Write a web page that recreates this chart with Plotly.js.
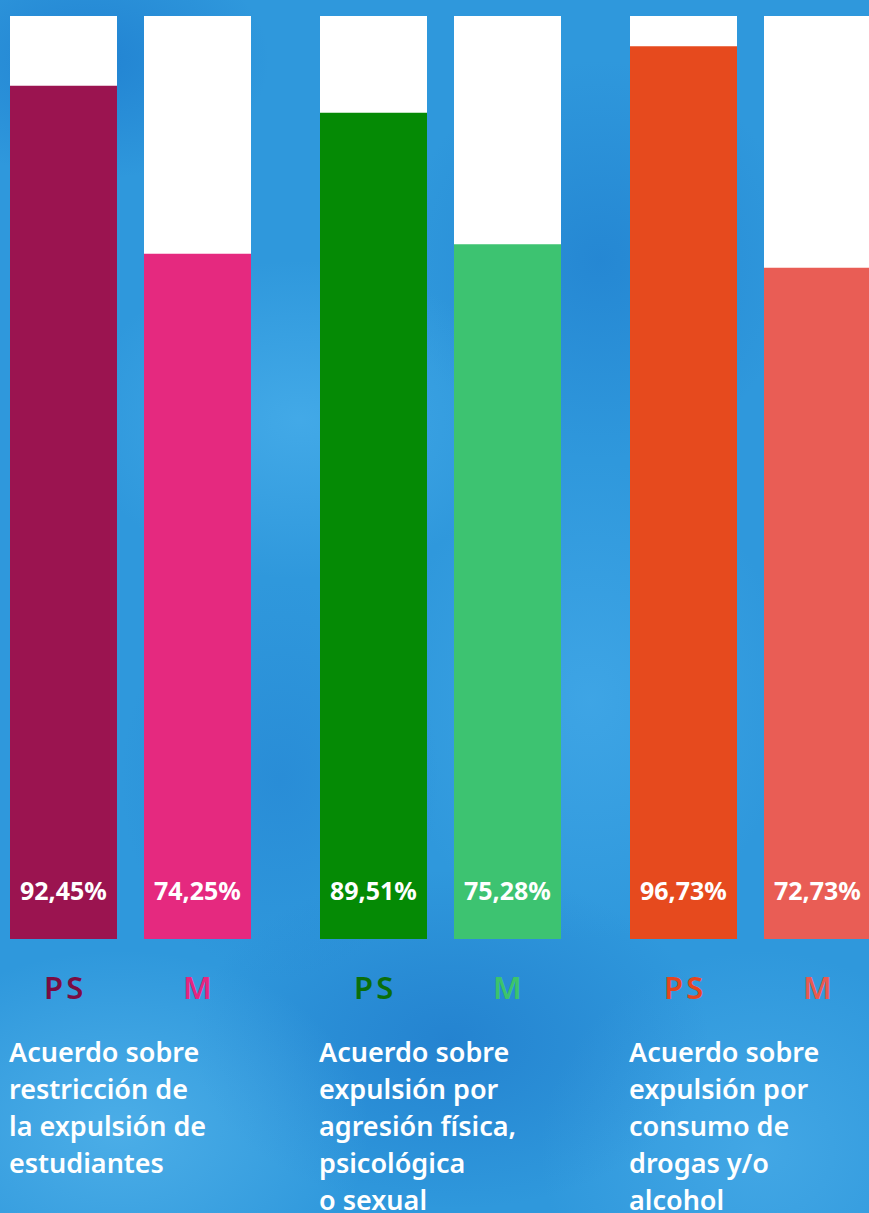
<!DOCTYPE html>
<html>
<head>
<meta charset="utf-8">
<script src="https://cdn.plot.ly/plotly-3.0.1.min.js"></script>
<style>
  html, body { margin: 0; padding: 0; }
  body {
    width: 869px; height: 1213px; overflow: hidden;
    background-color: #2f98dc;
    background-image:
      radial-gradient(ellipse 180px 120px at 90px 60px, rgba(20,110,200,0.5), rgba(20,110,200,0) 100%),
      radial-gradient(ellipse 220px 160px at 300px 420px, rgba(90,190,245,0.45), rgba(90,190,245,0) 100%),
      radial-gradient(ellipse 200px 200px at 600px 260px, rgba(25,115,200,0.45), rgba(25,115,200,0) 100%),
      radial-gradient(ellipse 250px 180px at 120px 1130px, rgba(110,200,245,0.45), rgba(110,200,245,0) 100%),
      radial-gradient(ellipse 260px 170px at 450px 1040px, rgba(20,100,190,0.4), rgba(20,100,190,0) 100%),
      radial-gradient(ellipse 220px 200px at 760px 1150px, rgba(90,185,240,0.45), rgba(90,185,240,0) 100%),
      radial-gradient(ellipse 200px 240px at 590px 700px, rgba(80,180,240,0.45), rgba(80,180,240,0) 100%),
      radial-gradient(ellipse 160px 200px at 280px 780px, rgba(30,120,205,0.35), rgba(30,120,205,0) 100%);
  }
  #chart { width: 869px; height: 1213px; }
</style>
</head>
<body>
<div id="chart"></div>
<script>
// ---- data ----
var groups = ["restricción", "agresión", "consumo"];
var seriesNames = ["P\u200aS", "M"];
var valuesPS = [92.45, 89.51, 96.73];
var valuesM = [74.25, 75.28, 72.73];
var valueLabelsPS = ["92,45%", "89,51%", "96,73%"];
var valueLabelsM = ["74,25%", "75,28%", "72,73%"];
var totals = [100, 100, 100];
var descLines = [
  ["Acuerdo sobre", "restricción de", "la expulsión de", "estudiantes"],
  ["Acuerdo sobre", "expulsión por", "agresión física,", "psicológica", "o sexual"],
  ["Acuerdo sobre", "expulsión por", "consumo de", "drogas y/o", "alcohol"]
];

// ---- styles ----
var colorsPS = ["#9b1450", "#058a05", "#e64a1e"];
var colorsM = ["#e5297f", "#3dc371", "#e95d55"];
var labelColorsPS = ["#7a0c42", "#0a6e0a", "#e5461e"];
var labelColorsM = ["#e5267f", "#3cc36c", "#e85a50"];
var groupStep = 3.1, pairStep = 1.34, firstCenter = 0.635, barW = 1.07;

function xPos(g, s) { return firstCenter + g * groupStep + s * pairStep; }

var xPS = groups.map(function (_, g) { return xPos(g, 0); });
var xM = groups.map(function (_, g) { return xPos(g, 1); });
var xAll = xPS.concat(xM);

var traces = [
  { type: "bar", x: xAll, y: totals.concat(totals), width: barW,
    marker: { color: "#ffffff", line: { width: 0 } }, hoverinfo: "skip" },
  { type: "bar", x: xPS, y: valuesPS, width: barW, name: "PS",
    marker: { color: colorsPS, line: { width: 0 } } },
  { type: "bar", x: xM, y: valuesM, width: barW, name: "M",
    marker: { color: colorsM, line: { width: 0 } } }
];

var font = "'Noto Sans', 'Open Sans', sans-serif";
var annotations = [];
groups.forEach(function (_, g) {
  [[xPS[g], valueLabelsPS[g], labelColorsPS[g], seriesNames[0]],
   [xM[g], valueLabelsM[g], labelColorsM[g], seriesNames[1]]].forEach(function (d) {
    annotations.push({ x: d[0], y: 0, xref: "x", yref: "y", xanchor: "center", yanchor: "bottom",
      yshift: 30, showarrow: false, text: "<b>" + d[1] + "</b>",
      font: { family: font, size: 25, color: "#ffffff" } });
    annotations.push({ x: d[0], y: 0, xref: "x", yref: "y", xanchor: "center", yanchor: "top",
      yshift: -25, showarrow: false, text: d[3],
      font: { family: font, size: 31, color: d[2], weight: 600 } });
  });
  descLines[g].forEach(function (line, i) {
    annotations.push({ x: xPS[g] - barW / 2, y: 0, xref: "x", yref: "y", xanchor: "left", yanchor: "top",
      xshift: -3, yshift: -92 - i * 37, showarrow: false, text: line, align: "left",
      font: { family: font, size: 27, color: "#ffffff", weight: 600 } });
  });
});

var layout = {
  width: 869, height: 1213,
  margin: { l: 0, r: 0, t: 16, b: 274, pad: 0 },
  paper_bgcolor: "rgba(0,0,0,0)", plot_bgcolor: "rgba(0,0,0,0)",
  barmode: "overlay", showlegend: false,
  xaxis: { range: [0, 8.69], visible: false, fixedrange: true },
  yaxis: { range: [0, 100], visible: false, fixedrange: true },
  annotations: annotations
};

Plotly.newPlot("chart", traces, layout, { displayModeBar: false, staticPlot: true });
</script>
</body>
</html>
